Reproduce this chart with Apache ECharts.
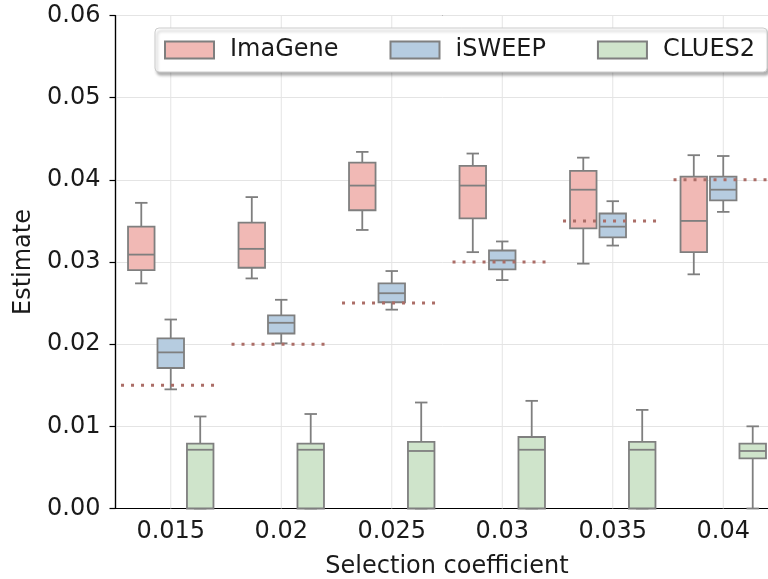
<!DOCTYPE html>
<html>
<head>
<meta charset="utf-8">
<script src="https://cdn.jsdelivr.net/npm/echarts@6/dist/echarts.min.js"></script>
<style>
  html, body { margin: 0; padding: 0; background: #ffffff; }
  #chart { width: 768px; height: 579px; }
</style>
</head>
<body>
<div id="chart"></div>
<script>
// Selection coefficient categories and their true values
const categories = ['0.015', '0.02', '0.025', '0.03', '0.035', '0.04'];
const trueValues = [0.015, 0.02, 0.025, 0.03, 0.035, 0.04];

// Box statistics per category: [lower whisker, Q1, median, Q3, upper whisker]
const imagene = [
  [0.0274, 0.0290, 0.0309, 0.0343, 0.0372],
  [0.0280, 0.0293, 0.0316, 0.0348, 0.0379],
  [0.0339, 0.0363, 0.0393, 0.0421, 0.0434],
  [0.0312, 0.0353, 0.0393, 0.0417, 0.0432],
  [0.0298, 0.0341, 0.0388, 0.0411, 0.0427],
  [0.0285, 0.0312, 0.0350, 0.0404, 0.0430]
];
const isweep = [
  [0.0145, 0.0171, 0.0190, 0.0207, 0.0230],
  [0.0201, 0.0213, 0.0226, 0.0235, 0.0254],
  [0.0242, 0.0251, 0.0262, 0.0274, 0.0289],
  [0.0278, 0.0291, 0.0302, 0.0314, 0.0325],
  [0.0320, 0.0330, 0.0343, 0.0359, 0.0374],
  [0.0361, 0.0375, 0.0388, 0.0404, 0.0429]
];
const clues2 = [
  [0, 0, 0.00715, 0.0079, 0.0112],
  [0, 0, 0.00715, 0.0079, 0.0115],
  [0, 0, 0.0070, 0.0081, 0.0129],
  [0, 0, 0.00715, 0.0087, 0.0131],
  [0, 0, 0.00715, 0.0081, 0.0120],
  [0, 0.0061, 0.0070, 0.0079, 0.0100]
];
const yTicks = [0, 0.01, 0.02, 0.03, 0.04, 0.05, 0.06];

const FONT = 'DejaVu Sans';
const FONT_SIZE = 24;
const TEXT = '#1a1a1a';
const EDGE = '#7f7f7f';
const methods = [
  { name: 'ImaGene', stats: imagene, color: '#f1b9b5', slot: -1 },
  { name: 'iSWEEP',  stats: isweep,  color: '#b6cce0', slot: 0 },
  { name: 'CLUES2',  stats: clues2,  color: '#cfe4cb', slot: 1 }
];

// Box-and-whisker glyph for one category, placed in its hue slot
function boxRenderer(slot, color) {
  return function (params, api) {
    const idx = api.value(0);
    const band = api.size([1, 0])[0];
    const slotW = band * 0.8 / 3;
    const cx = api.coord([idx, 0])[0] + slot * slotW;
    const w = slotW * 0.9;
    const capW = w * 0.47;
    const yLo = api.coord([idx, api.value(1)])[1];
    const yQ1 = api.coord([idx, api.value(2)])[1];
    const yMed = api.coord([idx, api.value(3)])[1];
    const yQ3 = api.coord([idx, api.value(4)])[1];
    const yHi = api.coord([idx, api.value(5)])[1];
    const line = { stroke: EDGE, lineWidth: 1.8 };
    return {
      type: 'group',
      children: [
        { type: 'line', shape: { x1: cx, y1: yQ3, x2: cx, y2: yHi }, style: line },
        { type: 'line', shape: { x1: cx - capW / 2, y1: yHi, x2: cx + capW / 2, y2: yHi }, style: line },
        { type: 'line', shape: { x1: cx, y1: yQ1, x2: cx, y2: yLo }, style: line },
        { type: 'line', shape: { x1: cx - capW / 2, y1: yLo, x2: cx + capW / 2, y2: yLo }, style: line },
        { type: 'rect', shape: { x: cx - w / 2, y: yQ3, width: w, height: yQ1 - yQ3 },
          style: { fill: color, stroke: EDGE, lineWidth: 1.8 } },
        { type: 'line', shape: { x1: cx - w / 2, y1: yMed, x2: cx + w / 2, y2: yMed }, style: line }
      ]
    };
  };
}

const boxSeries = methods.map(m => ({
  name: m.name,
  type: 'custom',
  z: 3,
  itemStyle: { color: m.color, borderColor: EDGE, borderWidth: 1.5 },
  encode: { x: 0, y: [1, 2, 3, 4, 5] },
  data: m.stats.map((s, i) => [i].concat(s)),
  renderItem: boxRenderer(m.slot, m.color)
}));

// Vertical grid lines at each category centre
const gridSeries = {
  name: 'vgrid',
  type: 'custom',
  z: 1,
  silent: true,
  data: categories.map((c, i) => [i]),
  encode: { x: 0 },
  renderItem: function (params, api) {
    const idx = api.value(0);
    const top = api.coord([idx, 0.06]);
    const bottom = api.coord([idx, 0]);
    return { type: 'line', shape: { x1: top[0], y1: top[1], x2: bottom[0], y2: bottom[1] },
      style: { stroke: '#e4e4e4', lineWidth: 1 } };
  }
};

// Dotted reference line at each true selection coefficient
const truthSeries = {
  name: 'truth',
  type: 'custom',
  z: 5,
  silent: true,
  data: trueValues.map((v, i) => [i, v]),
  encode: { x: 0, y: 1 },
  renderItem: function (params, api) {
    const idx = api.value(0);
    const band = api.size([1, 0])[0];
    const p = api.coord([idx, api.value(1)]);
    return { type: 'line',
      shape: { x1: p[0] - band * 0.45, y1: p[1], x2: p[0] + band * 0.45, y2: p[1] },
      style: { stroke: '#ab6d67', lineWidth: 3, lineDash: [3, 7] } };
  }
};

const chart = echarts.init(document.getElementById('chart'), null, { renderer: 'canvas' });
chart.setOption({
  animation: false,
  backgroundColor: '#ffffff',
  textStyle: { fontFamily: FONT },
  grid: {
    left: 115.5, top: 15.5, width: 663, height: 493,
    outerBoundsMode: 'none',
    containLabel: false,
    show: true, borderColor: '#000000', borderWidth: 1.2, backgroundColor: 'transparent'
  },
  legend: {
    data: methods.map(m => m.name),
    left: 155, top: 28,
    padding: [10, 12, 10, 9],
    itemWidth: 49, itemHeight: 17, itemGap: 51,
    icon: 'rect',
    backgroundColor: '#ffffff',
    borderColor: '#cccccc', borderWidth: 1, borderRadius: 4,
    shadowColor: 'rgba(0,0,0,0.3)', shadowBlur: 3, shadowOffsetX: 2, shadowOffsetY: 3,
    textStyle: { fontFamily: FONT, fontSize: FONT_SIZE, color: TEXT, lineHeight: 24, padding: [0, 0, 0, 11] }
  },
  xAxis: {
    type: 'category',
    data: categories,
    name: 'Selection coefficient',
    nameLocation: 'middle',
    nameGap: 46,
    nameTextStyle: { fontFamily: FONT, fontSize: FONT_SIZE, color: TEXT },
    axisLine: { lineStyle: { color: '#000000', width: 1.2 } },
    axisTick: { alignWithLabel: true, length: 6, lineStyle: { color: '#000000', width: 1.2 } },
    axisLabel: { fontFamily: FONT, fontSize: FONT_SIZE, color: TEXT, margin: 11 },
    splitLine: { show: false }
  },
  yAxis: {
    type: 'value',
    min: yTicks[0], max: yTicks[yTicks.length - 1], interval: yTicks[1] - yTicks[0],
    name: 'Estimate',
    nameLocation: 'middle',
    nameGap: 72,
    nameTextStyle: { fontFamily: FONT, fontSize: FONT_SIZE, color: TEXT },
    axisLine: { show: true, lineStyle: { color: '#000000', width: 1.2 } },
    axisTick: { show: true, length: 6, lineStyle: { color: '#000000', width: 1.2 } },
    axisLabel: { fontFamily: FONT, fontSize: FONT_SIZE, color: TEXT, margin: 15,
      formatter: v => v.toFixed(2) },
    splitLine: { show: true, lineStyle: { color: '#e4e4e4', width: 1 } }
  },
  series: [gridSeries].concat(boxSeries, [truthSeries])
});
</script>
</body>
</html>
